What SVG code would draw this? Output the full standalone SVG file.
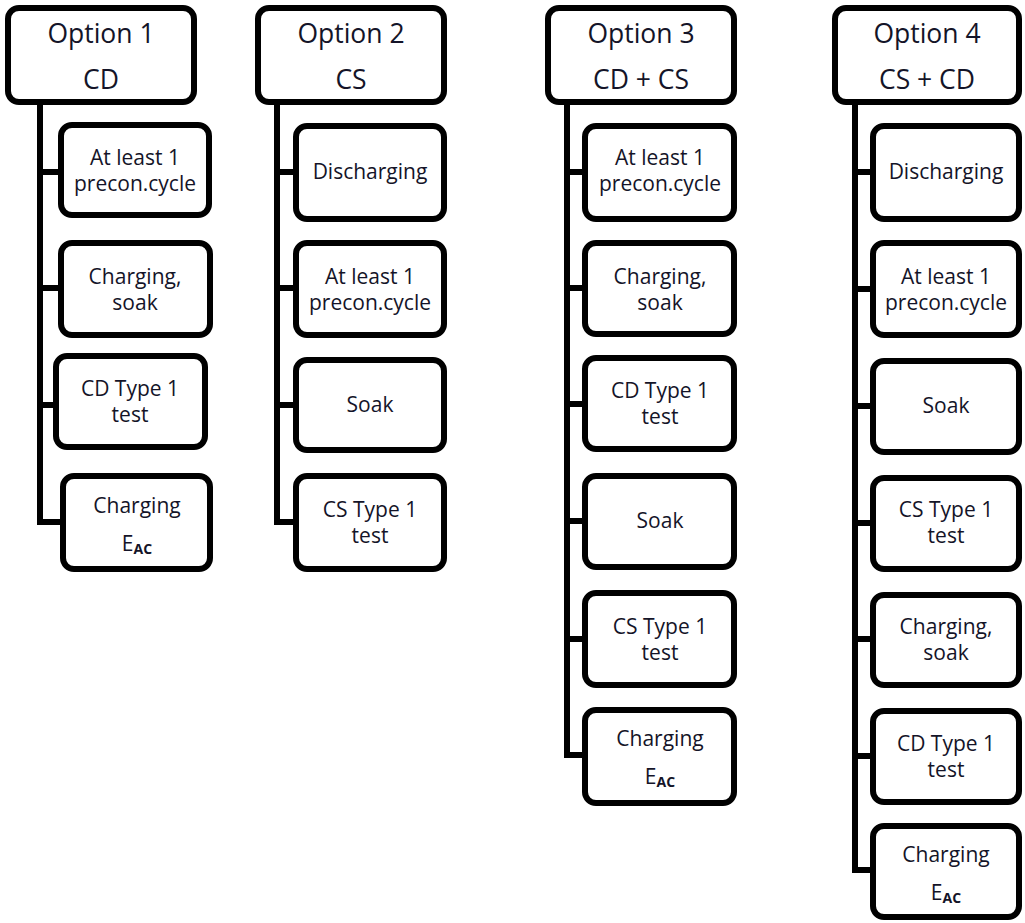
<svg xmlns="http://www.w3.org/2000/svg" width="1025" height="923" viewBox="0 0 1025 923">
<style>
.box{fill:#fff;stroke:#000;stroke-width:6}
.hdr{font-family:"Open Sans","Liberation Sans",sans-serif;font-size:26.5px;fill:#141428;text-anchor:middle}
.t{font-family:"Open Sans","Liberation Sans",sans-serif;font-size:21px;fill:#141428;text-anchor:middle}
.sub{font-size:14px;font-weight:bold}
.conn{fill:none;stroke:#000;stroke-width:6;stroke-linejoin:miter}
</style>
<g id="connectors">
<path class="conn" d="M40,102 V522 H63 M40,172 H61 M40,288 H61 M40,405 H56"/>
<path class="conn" d="M277,102 V522 H296 M277,172 H296 M277,288 H296 M277,405 H296"/>
<path class="conn" d="M567,102 V755 H585 M567,172 H585 M567,288 H585 M567,404 H585 M567,521 H585 M567,639 H585"/>
<path class="conn" d="M855,102 V870 H873 M855,172 H873 M855,289 H873 M855,406 H873 M855,523 H873 M855,639 H873 M855,756 H873"/>
</g>
<g id="opt1">
<rect class="box" x="8" y="8" width="186" height="94" rx="11"/>
<text class="hdr"><tspan x="101" y="43">Option 1</tspan><tspan x="101" y="89">CD</tspan></text>
</g>
<g id="opt1-1"><rect class="box" x="61" y="125" width="148" height="90" rx="11"/><text class="t"><tspan x="135" y="165">At least 1</tspan><tspan x="135" y="191">precon.cycle</tspan></text></g>
<g id="opt1-2"><rect class="box" x="61" y="243" width="149" height="92" rx="11"/><text class="t"><tspan x="135" y="284">Charging,</tspan><tspan x="135" y="310">soak</tspan></text></g>
<g id="opt1-3"><rect class="box" x="56" y="356" width="149" height="91" rx="11"/><text class="t"><tspan x="130" y="396">CD Type 1</tspan><tspan x="130" y="422">test</tspan></text></g>
<g id="opt1-4"><rect class="box" x="63" y="476" width="147" height="93" rx="11"/><text class="t"><tspan x="137" y="513">Charging</tspan><tspan x="137" y="551">E</tspan><tspan class="sub" dy="3">AC</tspan></text></g>

<g id="opt2">
<rect class="box" x="258" y="8" width="186" height="94" rx="11"/>
<text class="hdr"><tspan x="351" y="43">Option 2</tspan><tspan x="351" y="89">CS</tspan></text>
</g>
<g id="opt2-1"><rect class="box" x="296" y="126" width="148" height="93" rx="11"/><text class="t" x="370" y="179">Discharging</text></g>
<g id="opt2-2"><rect class="box" x="296" y="243" width="148" height="92" rx="11"/><text class="t"><tspan x="370" y="284">At least 1</tspan><tspan x="370" y="310">precon.cycle</tspan></text></g>
<g id="opt2-3"><rect class="box" x="296" y="360" width="148" height="90" rx="11"/><text class="t" x="370" y="412">Soak</text></g>
<g id="opt2-4"><rect class="box" x="296" y="476" width="148" height="93" rx="11"/><text class="t"><tspan x="370" y="517">CS Type 1</tspan><tspan x="370" y="543">test</tspan></text></g>

<g id="opt3">
<rect class="box" x="548" y="8" width="186" height="94" rx="11"/>
<text class="hdr"><tspan x="641" y="43">Option 3</tspan><tspan x="641" y="89">CD + CS</tspan></text>
</g>
<g id="opt3-1"><rect class="box" x="585" y="126" width="149" height="93" rx="11"/><text class="t"><tspan x="660" y="165">At least 1</tspan><tspan x="660" y="191">precon.cycle</tspan></text></g>
<g id="opt3-2"><rect class="box" x="585" y="243" width="149" height="91" rx="11"/><text class="t"><tspan x="660" y="284">Charging,</tspan><tspan x="660" y="310">soak</tspan></text></g>
<g id="opt3-3"><rect class="box" x="585" y="358" width="149" height="91" rx="11"/><text class="t"><tspan x="660" y="398">CD Type 1</tspan><tspan x="660" y="424">test</tspan></text></g>
<g id="opt3-4"><rect class="box" x="585" y="476" width="149" height="91" rx="11"/><text class="t" x="660" y="528">Soak</text></g>
<g id="opt3-5"><rect class="box" x="585" y="593" width="149" height="92" rx="11"/><text class="t"><tspan x="660" y="634">CS Type 1</tspan><tspan x="660" y="660">test</tspan></text></g>
<g id="opt3-6"><rect class="box" x="585" y="710" width="149" height="93" rx="11"/><text class="t"><tspan x="660" y="746">Charging</tspan><tspan x="660" y="784">E</tspan><tspan class="sub" dy="3">AC</tspan></text></g>

<g id="opt4">
<rect class="box" x="835" y="8" width="184" height="94" rx="11"/>
<text class="hdr"><tspan x="927" y="43">Option 4</tspan><tspan x="927" y="89">CS + CD</tspan></text>
</g>
<g id="opt4-1"><rect class="box" x="873" y="126" width="146" height="93" rx="11"/><text class="t" x="946" y="179">Discharging</text></g>
<g id="opt4-2"><rect class="box" x="873" y="243" width="146" height="92" rx="11"/><text class="t"><tspan x="946" y="284">At least 1</tspan><tspan x="946" y="310">precon.cycle</tspan></text></g>
<g id="opt4-3"><rect class="box" x="873" y="361" width="146" height="91" rx="11"/><text class="t" x="946" y="413">Soak</text></g>
<g id="opt4-4"><rect class="box" x="873" y="478" width="146" height="91" rx="11"/><text class="t"><tspan x="946" y="517">CS Type 1</tspan><tspan x="946" y="543">test</tspan></text></g>
<g id="opt4-5"><rect class="box" x="873" y="595" width="146" height="90" rx="11"/><text class="t"><tspan x="946" y="634">Charging,</tspan><tspan x="946" y="660">soak</tspan></text></g>
<g id="opt4-6"><rect class="box" x="873" y="711" width="146" height="91" rx="11"/><text class="t"><tspan x="946" y="751">CD Type 1</tspan><tspan x="946" y="777">test</tspan></text></g>
<g id="opt4-7"><rect class="box" x="873" y="826" width="146" height="91" rx="11"/><text class="t"><tspan x="946" y="862">Charging</tspan><tspan x="946" y="900">E</tspan><tspan class="sub" dy="3">AC</tspan></text></g>
</svg>
